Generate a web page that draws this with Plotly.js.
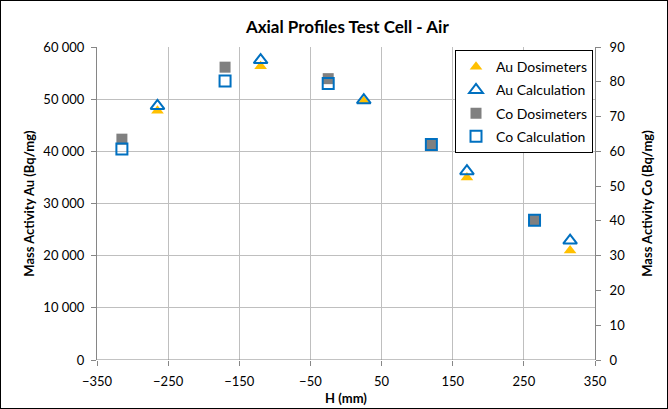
<!DOCTYPE html>
<html>
<head>
<meta charset="utf-8">
<script src="https://cdn.plot.ly/plotly-3.0.1.min.js"></script>
<style>
html,body{margin:0;padding:0;background:#fff;}
#chart{width:666px;height:407px;border:1px solid #000;}
</style>
</head>
<body>
<div id="chart"></div>
<script>
const auX = [-265, -120, 25, 170, 315];
const auDosimeters = [47800, 56300, 49600, 35000, 21000];
const auCalculation = [48700, 57500, 49800, 36200, 22900];
const coX = [-315, -170, -25, 120, 265];
const coDosimeters = [63.5, 84.2, 80.9, 62.0, 40.2];
const coCalculation = [60.7, 80.2, 79.5, 62.0, 40.2];
const seriesNames = ["Au Dosimeters", "Au Calculation", "Co Dosimeters", "Co Calculation"];

const blue = "#0070C0";
const traces = [
  {x: auX, y: auDosimeters, name: seriesNames[0], mode: "markers", type: "scatter", legendgroup: "a",
   marker: {symbol: "triangle-up", color: "#FFC000", size: 11}},
  {x: auX, y: auCalculation, name: seriesNames[1], mode: "markers", type: "scatter", legendgroup: "b",
   marker: {symbol: "triangle-up-open", color: blue, size: 12, line: {width: 2, color: blue}}},
  {x: coX, y: coDosimeters, name: seriesNames[2], mode: "markers", type: "scatter", yaxis: "y2", legendgroup: "c",
   marker: {symbol: "square", color: "#808080", size: 11}},
  {x: coX, y: coCalculation, name: seriesNames[3], mode: "markers", type: "scatter", yaxis: "y2", legendgroup: "d",
   marker: {symbol: "square-open", color: blue, size: 11, line: {width: 2, color: blue}}}
];

const font = {family: "Lato, 'Liberation Sans', sans-serif", size: 13, color: "#000"};
const layout = {
  width: 666, height: 407,
  margin: {l: 96, r: 72, t: 46, b: 48},
  paper_bgcolor: "#fff", plot_bgcolor: "#fff",
  separators: ". ",
  font: font,
  showlegend: true,
  title: {text: "<b>Axial Profiles Test Cell - Air</b>", x: 0.52, xanchor: "center", yref: "container", y: 0.937, yanchor: "middle",
          font: {family: font.family, size: 17, color: "#000"}},
  xaxis: {range: [-350, 350], tick0: -350, dtick: 100, showgrid: true, gridcolor: "#BFBFBF",
          zeroline: false, showline: false, ticks: "outside", ticklen: 5, tickcolor: "#868686", ticklabelstandoff: 4,
          title: {text: "<b>H (mm)</b>", font: {family: font.family, size: 13}, standoff: 6}},
  yaxis: {range: [0, 60000], dtick: 10000, tickformat: ",d", showgrid: true, gridcolor: "#BFBFBF",
          zeroline: false, showline: true, linecolor: "#868686", ticks: "outside", ticklen: 5, tickcolor: "#868686",
          ticklabelstandoff: 4,
          title: {text: "<b>Mass Activity Au (Bq/mg)</b>", font: {family: font.family, size: 13}, standoff: 5}},
  yaxis2: {range: [0, 90], dtick: 10, overlaying: "y", side: "right", showgrid: false,
          zeroline: false, showline: true, linecolor: "#868686", ticks: "outside", ticklen: 5, tickcolor: "#868686",
          ticklabelstandoff: 6,
          title: {text: "<b>Mass Activity Co (Bq/mg)</b>", font: {family: font.family, size: 13}, standoff: 18}},
  shapes: [{type: "line", xref: "paper", yref: "y", x0: 0, x1: 1, y0: 0, y1: 0, line: {color: "#868686", width: 1}}],
  legend: {x: 0.996, xanchor: "right", y: 0.99, yanchor: "top", bgcolor: "#fff", bordercolor: "#000", borderwidth: 1,
           font: {family: font.family, size: 14}, traceorder: "grouped", tracegroupgap: 2, itemwidth: 20}
};
Plotly.newPlot("chart", traces, layout, {displayModeBar: false});
</script>
</body>
</html>
